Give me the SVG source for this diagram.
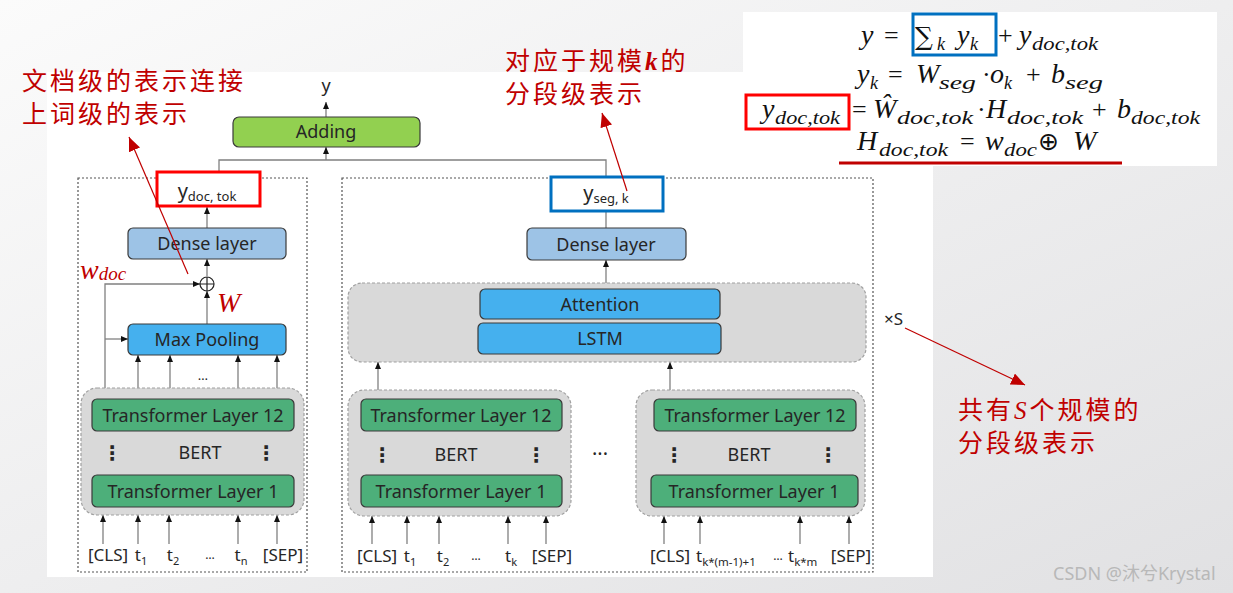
<svg xmlns="http://www.w3.org/2000/svg" width="1233" height="593" viewBox="0 0 1233 593">
<style>
.lbl{font-family:"Noto Sans","Liberation Sans",sans-serif;font-size:18px;fill:#262626;text-anchor:middle}
.inp{font-family:"Noto Sans","Liberation Sans",sans-serif;font-size:17px;fill:#262626;text-anchor:middle}
.dots{font-family:"DejaVu Sans",sans-serif;font-size:20px;font-weight:bold;fill:#262626;text-anchor:middle}
.node{stroke:#3a3a3a;stroke-width:1.2}
.panel{fill:none;stroke:#555;stroke-width:1.2;stroke-dasharray:2 2}
.bert{fill:#d9d9d9;stroke:#a0a0a0;stroke-width:1.2;stroke-dasharray:3 2}
.tl{fill:#4daf7a}
.blue{fill:#45b0ee}
.dense{fill:#9dc3e6}
.c{fill:none;stroke:#808080;stroke-width:1.3}
.a{fill:none;stroke:#808080;stroke-width:1.3;marker-end:url(#ah)}
.ra{fill:none;stroke:#c00000;stroke-width:1.2;marker-end:url(#rah)}
.cn{font-family:"Noto Sans CJK SC","Noto Sans",sans-serif;font-size:25px;fill:#c00000;letter-spacing:3px}
.fm{font-family:"Liberation Serif","DejaVu Serif",serif;font-style:italic;font-size:28px;fill:#111}
.fs{font-family:"Liberation Serif","DejaVu Serif",serif;font-style:italic;font-size:18px;fill:#111}
.fo{font-family:"Liberation Serif","DejaVu Serif",serif;font-size:26px;fill:#111}
</style>
<defs>
<linearGradient id="bg" x1="0" y1="0" x2="1" y2="1"><stop offset="0" stop-color="#fbfbfb"/><stop offset="1" stop-color="#e1e1e3"/></linearGradient>
<marker id="ah" viewBox="0 0 7 6" refX="7" refY="3" markerWidth="7" markerHeight="6" orient="auto" markerUnits="userSpaceOnUse"><path d="M0,0 L7,3 L0,6 z" fill="#111"/></marker>
<marker id="rah" viewBox="0 0 14 12" refX="14" refY="6" markerWidth="14" markerHeight="12" orient="auto" markerUnits="userSpaceOnUse"><path d="M0,0 L14,6 L0,12 z" fill="#c00000"/></marker>
</defs>
<rect width="1233" height="593" fill="url(#bg)"/>
<rect x="47" y="72" width="886" height="505" fill="#ffffff"/>
<rect x="743" y="12" width="474" height="154" fill="#ffffff"/>

<!-- formulas -->
<g id="formulas">
<text class="fm" x="861" y="44">y</text>
<text class="fo" x="884" y="44">=</text>
<text x="915" y="45" style="font-family:'DejaVu Serif',serif;font-size:25px;fill:#111">∑</text>
<text class="fs" x="937" y="50">k</text>
<text class="fm" x="957" y="44">y</text>
<text class="fs" x="970" y="50">k</text>
<text class="fo" x="998" y="44">+</text>
<text class="fm" x="1019" y="44">y</text>
<text class="fs" x="1032" y="50" textLength="66" lengthAdjust="spacingAndGlyphs">doc,tok</text>
<rect x="913" y="14" width="83" height="41" fill="none" stroke="#0070c0" stroke-width="3"/>

<text class="fm" x="857" y="83">y</text>
<text class="fs" x="870" y="89">k</text>
<text class="fo" x="888" y="83">=</text>
<text class="fm" x="916" y="83">W</text>
<text class="fs" x="939" y="89" textLength="37" lengthAdjust="spacingAndGlyphs">seg</text>
<text class="fo" x="982" y="83">·</text>
<text class="fm" x="990" y="83">o</text>
<text class="fs" x="1004" y="89">k</text>
<text class="fo" x="1026" y="83">+</text>
<text class="fm" x="1051" y="83">b</text>
<text class="fs" x="1065" y="89" textLength="38" lengthAdjust="spacingAndGlyphs">seg</text>

<rect x="746" y="95" width="103" height="34" fill="none" stroke="#ff0000" stroke-width="3"/>
<text class="fm" x="762" y="118">y</text>
<text class="fs" x="775" y="124" textLength="65" lengthAdjust="spacingAndGlyphs">doc,tok</text>
<text class="fo" x="852" y="118">=</text>
<text class="fm" x="873" y="118">Ŵ</text>
<text class="fs" x="897" y="124" textLength="76" lengthAdjust="spacingAndGlyphs">doc,tok</text>
<text class="fo" x="977" y="118">·</text>
<text class="fm" x="986" y="118">H</text>
<text class="fs" x="1007" y="124" textLength="76" lengthAdjust="spacingAndGlyphs">doc,tok</text>
<text class="fo" x="1092" y="118">+</text>
<text class="fm" x="1117" y="118">b</text>
<text class="fs" x="1131" y="124" textLength="69" lengthAdjust="spacingAndGlyphs">doc,tok</text>

<text class="fm" x="857" y="150">H</text>
<text class="fs" x="879" y="156" textLength="69" lengthAdjust="spacingAndGlyphs">doc,tok</text>
<text class="fo" x="960" y="150">=</text>
<text class="fm" x="985" y="150">w</text>
<text class="fs" x="1004" y="156" textLength="33" lengthAdjust="spacingAndGlyphs">doc</text>
<text x="1038" y="150" style="font-family:'DejaVu Sans',sans-serif;font-size:25px;fill:#111">⊕</text>
<text class="fm" x="1073" y="150">W</text>
<line x1="839" y1="163" x2="1122" y2="163" stroke="#c00000" stroke-width="3"/>
</g>

<!-- panels -->
<rect id="left-panel" class="panel" x="78" y="178" width="229" height="394"/>
<rect id="seg-panel" class="panel" x="342" y="178" width="531" height="394"/>

<!-- connectors -->
<g id="connectors">
<path class="a" d="M326,117 V102"/>
<path class="c" d="M219,172 V160 H606 V177"/>
<path class="a" d="M326,160 V147"/>
<path class="a" d="M207,228 V207"/>
<path class="a" d="M207,276 V259"/>
<path class="a" d="M207,324 V291"/>
<path class="a" d="M105,388 V284 H200"/>
<path class="a" d="M105,339 H128"/>
<path class="a" d="M138,388 V355"/>
<path class="a" d="M170,388 V355"/>
<path class="a" d="M238,388 V355"/>
<path class="a" d="M277,388 V355"/>
<path class="a" d="M103,544 V515"/>
<path class="a" d="M138,544 V515"/>
<path class="a" d="M169,544 V515"/>
<path class="a" d="M238,544 V515"/>
<path class="a" d="M277,544 V515"/>
<path class="c" d="M606,211 V228"/>
<path class="a" d="M606,283 V260"/>
<path class="a" d="M378,390 V362"/>
<path class="a" d="M670,390 V362"/>
<path class="a" d="M372,544 V516"/>
<path class="a" d="M407,544 V516"/>
<path class="a" d="M439,544 V516"/>
<path class="a" d="M508,544 V516"/>
<path class="a" d="M546,544 V516"/>
<path class="a" d="M664,544 V516"/>
<path class="a" d="M700,544 V516"/>
<path class="a" d="M800,544 V516"/>
<path class="a" d="M849,544 V516"/>
</g>

<!-- top -->
<g id="adding">
<rect class="node" x="233" y="117" width="187" height="30" rx="6" fill="#92d050"/>
<text class="lbl" x="326" y="138">Adding</text>
</g>
<text class="lbl" x="326" y="92">y</text>

<!-- left panel nodes -->
<g id="y-doc-tok">
<rect x="157" y="172" width="103" height="34" fill="#ffffff" stroke="#ff0000" stroke-width="3"/>
<text class="lbl" x="207" y="198" style="font-size:20px">y<tspan style="font-size:13px" dy="3">doc, tok</tspan></text>
</g>
<g id="dense-left">
<rect class="node dense" x="128" y="228" width="158" height="31" rx="5"/>
<text class="lbl" x="207" y="250">Dense layer</text>
</g>
<g id="concat">
<circle cx="207" cy="284" r="7" fill="#fff" stroke="#222" stroke-width="1.2"/>
<path d="M200,284 H214 M207,277 V291" stroke="#222" stroke-width="1.2"/>
</g>
<g id="max-pooling">
<rect class="node blue" x="128" y="324" width="158" height="31" rx="5"/>
<text class="lbl" x="207" y="346">Max Pooling</text>
</g>
<text class="lbl" x="203" y="380" style="font-size:13px">…</text>
<g id="bert-doc">
<rect class="bert" x="81" y="388" width="223" height="127" rx="16"/>
<rect class="node tl" x="92" y="399" width="202" height="32" rx="5"/>
<text class="lbl" x="193" y="422">Transformer Layer 12</text>
<text class="lbl" x="200" y="459">BERT</text>
<text class="dots" x="112" y="460">⋮</text>
<text class="dots" x="266" y="460">⋮</text>
<rect class="node tl" x="92" y="475" width="202" height="32" rx="5"/>
<text class="lbl" x="193" y="498">Transformer Layer 1</text>
</g>
<g id="inputs-doc">
<text class="inp" x="108" y="561">[CLS]</text>
<text class="inp" x="141" y="561">t<tspan style="font-size:11px" dy="4">1</tspan></text>
<text class="inp" x="173" y="561">t<tspan style="font-size:11px" dy="4">2</tspan></text>
<text class="inp" x="210" y="559" style="font-size:12px">…</text>
<text class="inp" x="241" y="561">t<tspan style="font-size:11px" dy="4">n</tspan></text>
<text class="inp" x="283" y="561">[SEP]</text>
</g>
<text x="80" y="279" style="font-family:'Liberation Serif',serif;font-style:italic;font-size:28px;fill:#c00000">w<tspan style="font-size:19px" dy="1">doc</tspan></text>
<text x="217" y="312" style="font-family:'Liberation Serif',serif;font-style:italic;font-size:28px;fill:#c00000">W</text>

<!-- segment panel nodes -->
<g id="y-seg-k">
<rect x="551" y="177" width="112" height="34" fill="#ffffff" stroke="#0070c0" stroke-width="3"/>
<text class="lbl" x="606" y="200" style="font-size:20px">y<tspan style="font-size:13px" dy="3">seg, k</tspan></text>
</g>
<g id="dense-seg">
<rect class="node dense" x="527" y="228" width="159" height="32" rx="5"/>
<text class="lbl" x="606" y="251">Dense layer</text>
</g>
<g id="lstm-attention">
<rect class="bert" x="348" y="283" width="518" height="79" rx="14"/>
<rect class="node blue" x="480" y="289" width="240" height="30" rx="5"/>
<text class="lbl" x="600" y="311">Attention</text>
<rect class="node blue" x="478" y="323" width="243" height="31" rx="5"/>
<text class="lbl" x="600" y="345">LSTM</text>
</g>
<g id="bert-seg1">
<rect class="bert" x="348" y="390" width="223" height="126" rx="16"/>
<rect class="node tl" x="361" y="399" width="201" height="32" rx="5"/>
<text class="lbl" x="461" y="422">Transformer Layer 12</text>
<text class="lbl" x="456" y="461">BERT</text>
<text class="dots" x="382" y="462">⋮</text>
<text class="dots" x="536" y="462">⋮</text>
<rect class="node tl" x="361" y="475" width="201" height="32" rx="5"/>
<text class="lbl" x="461" y="498">Transformer Layer 1</text>
</g>
<text class="lbl" x="600" y="461" style="font-size:20px">···</text>
<g id="bert-segS">
<rect class="bert" x="636" y="390" width="229" height="126" rx="16"/>
<rect class="node tl" x="654" y="399" width="202" height="32" rx="5"/>
<text class="lbl" x="755" y="422">Transformer Layer 12</text>
<text class="lbl" x="749" y="461">BERT</text>
<text class="dots" x="674" y="462">⋮</text>
<text class="dots" x="828" y="462">⋮</text>
<rect class="node tl" x="651" y="475" width="207" height="32" rx="5"/>
<text class="lbl" x="754" y="498">Transformer Layer 1</text>
</g>
<g id="inputs-seg">
<text class="inp" x="377" y="562">[CLS]</text>
<text class="inp" x="410" y="562">t<tspan style="font-size:11px" dy="4">1</tspan></text>
<text class="inp" x="443" y="562">t<tspan style="font-size:11px" dy="4">2</tspan></text>
<text class="inp" x="476" y="560" style="font-size:12px">…</text>
<text class="inp" x="511" y="562">t<tspan style="font-size:11px" dy="4">k</tspan></text>
<text class="inp" x="552" y="562">[SEP]</text>
<text class="inp" x="670" y="562">[CLS]</text>
<text class="inp" x="696" y="562" style="text-anchor:start">t<tspan style="font-size:11.5px" dy="4">k*(m-1)+1</tspan></text>
<text class="inp" x="778" y="560" style="font-size:12px">…</text>
<text class="inp" x="788" y="562" style="text-anchor:start">t<tspan style="font-size:11.5px" dy="4">k*m</tspan></text>
<text class="inp" x="851" y="562">[SEP]</text>
</g>
<text class="inp" x="884" y="325" style="text-anchor:start">×S</text>

<!-- annotations -->
<g id="annotations">
<text class="cn" x="22" y="90">文档级的表示连接</text>
<text class="cn" x="22" y="123">上词级的表示</text>
<path class="ra" d="M188,274 L129,137"/>
<text class="cn" x="505" y="70">对应于规模<tspan style="font-family:'Liberation Serif',serif;font-style:italic;font-weight:bold">k</tspan>的</text>
<text class="cn" x="505" y="103">分段级表示</text>
<path class="ra" d="M627,191 L602,113"/>
<path class="ra" d="M905,328 L1025,385"/>
<text class="cn" x="958" y="419">共有<tspan style="font-family:'Liberation Serif',serif;font-style:italic">S</tspan>个规模的</text>
<text class="cn" x="958" y="452">分段级表示</text>
</g>
<text x="1053" y="580" style="font-family:'Noto Sans','Noto Sans CJK SC',sans-serif;font-size:18px;fill:#b8b8b8">CSDN @沐兮Krystal</text>
</svg>
